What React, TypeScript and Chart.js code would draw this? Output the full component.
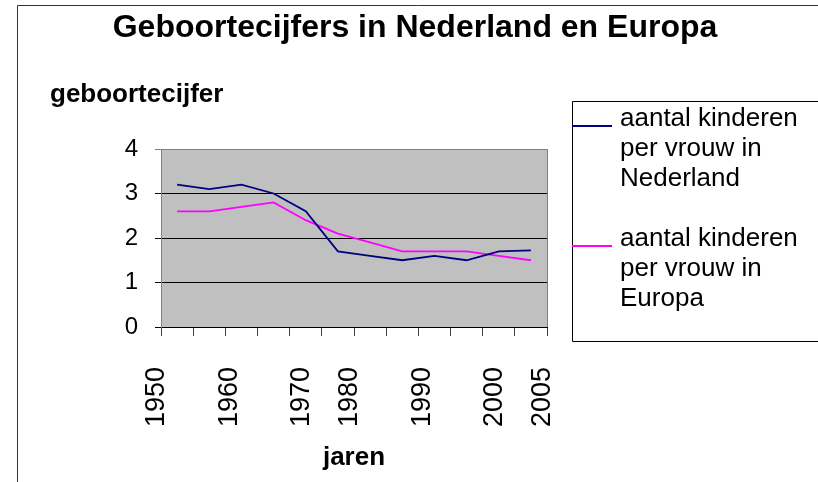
import React, { useEffect, useRef } from 'react';
import { Chart, registerables } from 'chart.js';

Chart.register(...registerables);

// ---- data ----
const categories = ['1950', '1955', '1960', '1965', '1970', '1975', '1980', '1985', '1990', '1995', '2000', '2005'];
const nederland = [3.2, 3.1, 3.2, 3.0, 2.6, 1.7, 1.6, 1.5, 1.6, 1.5, 1.7, 1.72];
const europa = [2.6, 2.6, 2.7, 2.8, 2.4, 2.1, 1.9, 1.7, 1.7, 1.7, 1.6, 1.5];
const tickLabels = ['1950', '', '', '1960', '', '', '1970', '', '1980', '', '', '1990', '', '', '2000', '', '2005'];
const seriesNames = ['aantal kinderen per vrouw in Nederland', 'aantal kinderen per vrouw in Europa'];
const seriesColors = ['#000080', '#FF00FF'];
const yMin = 0;
const yMax = 4;
const yStep = 1;
const chartTitle = 'Geboortecijfers in Nederland en Europa';
const yTitle = 'geboortecijfer';
const xTitle = 'jaren';

const FONT = "'Liberation Sans', Arial, Helvetica, sans-serif";

function wrapText(ctx: CanvasRenderingContext2D, text: string, maxWidth: number): string[] {
  const words = text.split(' ');
  const lines: string[] = [];
  let cur = '';
  for (const w of words) {
    const test = cur ? cur + ' ' + w : w;
    if (cur && ctx.measureText(test).width > maxWidth) {
      lines.push(cur);
      cur = w;
    } else {
      cur = test;
    }
  }
  if (cur) lines.push(cur);
  return lines;
}

const decor = {
  id: 'decor',
  beforeDraw(chart: any) {
    const { ctx, chartArea: a } = chart;
    ctx.save();
    ctx.fillStyle = '#ffffff';
    ctx.fillRect(0, 0, chart.width, chart.height);
    ctx.fillStyle = '#C0C0C0';
    ctx.fillRect(a.left, a.top, a.right - a.left, a.bottom - a.top);
    ctx.restore();
  },
  beforeDatasetsDraw(chart: any) {
    const { ctx, chartArea: a } = chart;
    ctx.save();
    ctx.strokeStyle = '#808080';
    ctx.lineWidth = 1;
    ctx.beginPath();
    ctx.moveTo(Math.round(a.right) + 0.5, a.top);
    ctx.lineTo(Math.round(a.right) + 0.5, a.bottom);
    ctx.stroke();
    ctx.restore();
  },
  afterDraw(chart: any) {
    const { ctx, chartArea: a } = chart;
    ctx.save();
    // outer frame
    ctx.strokeStyle = '#333333';
    ctx.lineWidth = 1;
    ctx.beginPath();
    ctx.moveTo(17.5, chart.height);
    ctx.lineTo(17.5, 5.5);
    ctx.lineTo(chart.width, 5.5);
    ctx.stroke();

    ctx.fillStyle = '#000';
    ctx.textBaseline = 'alphabetic';
    // title
    ctx.font = `bold 32px ${FONT}`;
    ctx.textAlign = 'center';
    ctx.fillText(chartTitle, 415, 37);
    // y title
    ctx.font = `bold 26px ${FONT}`;
    ctx.textAlign = 'left';
    ctx.fillText(yTitle, 50, 102);
    // x title
    ctx.textAlign = 'center';
    ctx.fillText(xTitle, (a.left + a.right) / 2, 465);

    // legend box
    const bx = 572.5;
    ctx.strokeStyle = '#000';
    ctx.lineWidth = 1;
    ctx.beginPath();
    ctx.moveTo(chart.width, 101.5);
    ctx.lineTo(bx, 101.5);
    ctx.lineTo(bx, 341.5);
    ctx.lineTo(chart.width, 341.5);
    ctx.stroke();

    ctx.font = `26px ${FONT}`;
    ctx.textAlign = 'left';
    chart.data.datasets.forEach((ds: any, i: number) => {
      const y0 = 126 + 120 * i;
      ctx.strokeStyle = ds.borderColor;
      ctx.lineWidth = 2;
      ctx.beginPath();
      ctx.moveTo(572, y0);
      ctx.lineTo(612, y0);
      ctx.stroke();
      const lines = wrapText(ctx, ds.label, 190);
      lines.forEach((ln, j) => ctx.fillText(ln, 620, y0 + 30 * j));
    });
    ctx.restore();
  },
};

export default function App() {
  const ref = useRef<HTMLCanvasElement>(null);
  useEffect(() => {
    if (!ref.current) return;
    Chart.defaults.font.family = FONT;
    const chart = new Chart(ref.current, {
      type: 'line',
      data: {
        labels: categories,
        datasets: [
          {
            label: seriesNames[0],
            data: nederland,
            borderColor: seriesColors[0],
            backgroundColor: seriesColors[0],
            borderWidth: 1.8,
            pointRadius: 0,
            tension: 0,
            fill: false,
          },
          {
            label: seriesNames[1],
            data: europa,
            borderColor: seriesColors[1],
            backgroundColor: seriesColors[1],
            borderWidth: 1.8,
            pointRadius: 0,
            tension: 0,
            fill: false,
          },
        ],
      },
      options: {
        responsive: false,
        animation: false,
        layout: { padding: { top: 149, right: 271, left: 0, bottom: 0 } },
        plugins: {
          legend: { display: false },
          title: { display: false },
          tooltip: { enabled: false },
        },
        scales: {
          x: {
            type: 'category',
            position: 'bottom',
            weight: 0,
            offset: true,
            grid: { drawOnChartArea: false, drawTicks: true, tickLength: 9, color: '#404040', offset: true },
            border: { color: '#000000', width: 1 },
            ticks: { display: false },
            afterFit: (s: any) => { s.height = 9; },
          },
          xl: {
            type: 'category',
            position: 'bottom',
            weight: 1,
            labels: tickLabels,
            offset: false,
            grid: { display: false, drawTicks: false },
            border: { display: false },
            ticks: {
              autoSkip: false,
              minRotation: 90,
              maxRotation: 90,
              padding: 31,
              labelOffset: -4,
              color: '#000',
              font: { size: 27, family: FONT },
            },
            afterFit: (s: any) => { s.height = 146; },
          },
          y: {
            type: 'linear',
            min: yMin,
            max: yMax,
            ticks: { stepSize: yStep, padding: 17, color: '#000', font: { size: 24, family: FONT } },
            grid: {
              tickLength: 6,
              color: (c: any) => (c.tick && c.tick.value === yMax ? '#808080' : '#000000'),
            },
            border: { color: '#808080', width: 1 },
            afterFit: (s: any) => { s.width = 161; },
          },
        },
      },
      plugins: [decor],
    } as any);
    return () => chart.destroy();
  }, []);
  return (
    <div style={{ position: 'fixed', left: 0, top: 0, width: 818, height: 482 }}>
      <canvas ref={ref} width={818} height={482} style={{ display: 'block' }} />
    </div>
  );
}
